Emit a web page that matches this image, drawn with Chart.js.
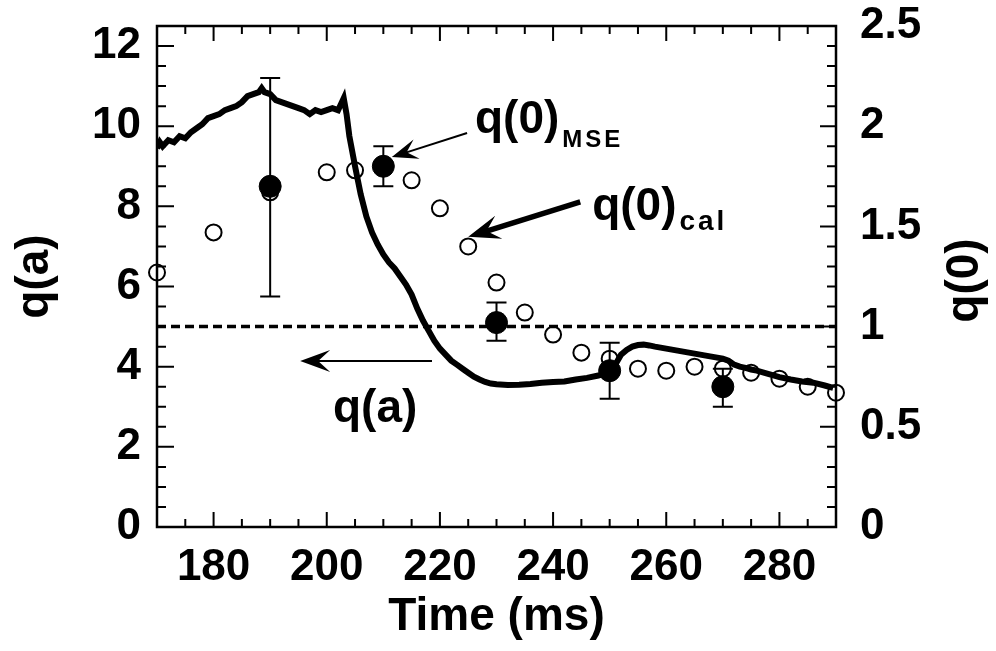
<!DOCTYPE html>
<html>
<head>
<meta charset="utf-8">
<script src="https://cdn.jsdelivr.net/npm/chart.js@4.4.0/dist/chart.umd.min.js"></script>
<style>
  html, body { margin: 0; padding: 0; background: #fff; }
  #wrap { width: 996px; height: 651px; }
</style>
</head>
<body>
<div id="wrap"><canvas id="c"></canvas></div>
<script>
"use strict";

// q(a) trace (left axis)
var qaTime = [170, 170.5, 171, 172, 173, 174, 175, 176, 177, 178, 179, 180, 181, 182, 183, 184, 185, 186, 187, 188, 188.5, 189, 190, 191, 192, 193, 194, 195, 196, 197, 198, 199, 200, 201, 202, 202.5, 203, 203.5, 204, 205, 206, 207, 208, 209, 210, 211, 212, 213, 214, 215, 216, 217, 218, 219, 220, 221, 222, 223, 224, 225, 226, 227, 228, 229, 230, 232, 234, 236, 238, 240, 242, 244, 246, 248, 249.5, 251, 252, 253, 254, 255, 256, 257, 258, 260, 262, 264, 266, 268, 270, 271, 272, 273, 274, 275, 276, 278, 280, 282, 284, 286, 288, 289.5];
var qaValue = [9.45, 9.6, 9.5, 9.65, 9.6, 9.75, 9.7, 9.85, 9.95, 10.05, 10.2, 10.25, 10.3, 10.4, 10.45, 10.5, 10.6, 10.75, 10.8, 10.85, 10.95, 10.85, 10.8, 10.65, 10.6, 10.55, 10.5, 10.45, 10.4, 10.3, 10.4, 10.35, 10.4, 10.45, 10.4, 10.55, 10.7, 10.3, 9.75, 9.0, 8.3, 7.75, 7.35, 7.05, 6.8, 6.6, 6.45, 6.25, 6.05, 5.8, 5.45, 5.15, 4.9, 4.65, 4.45, 4.3, 4.15, 4.05, 3.95, 3.85, 3.75, 3.68, 3.62, 3.58, 3.56, 3.54, 3.55, 3.57, 3.6, 3.62, 3.63, 3.68, 3.72, 3.78, 3.85, 4.05, 4.3, 4.42, 4.5, 4.54, 4.55, 4.53, 4.5, 4.45, 4.4, 4.35, 4.3, 4.25, 4.2, 4.15, 4.05, 4.0, 3.97, 3.93, 3.9, 3.82, 3.74, 3.68, 3.63, 3.6, 3.53, 3.47];

// reference level q(a) = 5
var refTime = [170, 290];
var refValue = [5, 5];

// q(0)_cal (right axis)
var calTime = [170, 180, 190, 200, 205, 215, 220, 225, 230, 235, 240, 245, 250, 255, 260, 265, 270, 275, 280, 285, 290];
var calValue = [1.27, 1.47, 1.67, 1.77, 1.78, 1.73, 1.59, 1.40, 1.22, 1.07, 0.96, 0.87, 0.84, 0.79, 0.78, 0.80, 0.79, 0.77, 0.74, 0.70, 0.67];

// q(0)_MSE with error bars (right axis)
var mseTime = [190, 210, 230, 250, 270];
var mseValue = [1.70, 1.80, 1.02, 0.78, 0.70];
var mseLow = [1.15, 1.70, 0.93, 0.64, 0.60];
var mseHigh = [2.24, 1.90, 1.12, 0.92, 0.79];

var xTicks = [180, 200, 220, 240, 260, 280];
var leftTicks = [0, 2, 4, 6, 8, 10, 12];
var rightTicks = [0, 0.5, 1, 1.5, 2, 2.5];

var FONT = "'Liberation Sans', Arial, sans-serif";
var tickFont = { family: FONT, size: 44, weight: 'bold' };
var titleFont = { family: FONT, size: 46, weight: 'bold' };

function pts(xs, ys) {
  return xs.map(function (x, i) { return { x: x, y: ys[i] }; });
}

function fixTicks(list) {
  return function (scale) {
    scale.ticks = list.map(function (v) { return { value: v }; });
  };
}

// fixed box sizes so the plot area lands where the reference has it
function fitBox(size) {
  return function (s) {
    if (s.isHorizontal()) {
      s.height = size;
      s.paddingLeft = 0; s.paddingRight = 0;
    } else {
      s.width = size;
      s.paddingTop = 0; s.paddingBottom = 0;
    }
  };
}

function arrow(ctx, x1, y1, x2, y2, width, headLen, headHalf) {
  var a = Math.atan2(y2 - y1, x2 - x1);
  var c = Math.cos(a), s = Math.sin(a);
  ctx.lineWidth = width;
  ctx.beginPath();
  ctx.moveTo(x1, y1);
  ctx.lineTo(x2 - c * headLen * 0.5, y2 - s * headLen * 0.5);
  ctx.stroke();
  ctx.beginPath();
  ctx.moveTo(x2, y2);
  ctx.lineTo(x2 - c * headLen - s * headHalf, y2 - s * headLen + c * headHalf);
  ctx.lineTo(x2 - c * headLen * 0.6, y2 - s * headLen * 0.6);
  ctx.lineTo(x2 - c * headLen + s * headHalf, y2 - s * headLen - c * headHalf);
  ctx.closePath();
  ctx.fill();
}

function label(ctx, x, y, main, sub, subSize, subShift, spacing) {
  ctx.font = 'bold 46px ' + FONT;
  ctx.textAlign = 'left';
  ctx.textBaseline = 'alphabetic';
  ctx.fillText(main, x, y);
  if (!sub) return;
  var w = ctx.measureText(main).width;
  ctx.font = 'bold ' + subSize + 'px ' + FONT;
  var cx = x + w + spacing;
  for (var i = 0; i < sub.length; i++) {
    ctx.fillText(sub[i], cx, y + subShift);
    cx += ctx.measureText(sub[i]).width + spacing;
  }
}

var decor = {
  id: 'decor',
  beforeDatasetsDraw: function (chart) {
    var ctx = chart.ctx, xs = chart.scales.x, yr = chart.scales.y2;
    ctx.save();
    ctx.strokeStyle = '#000';
    ctx.lineWidth = 2;
    mseTime.forEach(function (t, i) {
      var px = xs.getPixelForValue(t);
      var top = yr.getPixelForValue(mseHigh[i]);
      var bot = yr.getPixelForValue(mseLow[i]);
      ctx.beginPath();
      ctx.moveTo(px, top); ctx.lineTo(px, bot);
      ctx.moveTo(px - 10, top); ctx.lineTo(px + 10, top);
      ctx.moveTo(px - 10, bot); ctx.lineTo(px + 10, bot);
      ctx.stroke();
    });
    ctx.restore();
  },
  afterDraw: function (chart) {
    var ctx = chart.ctx, a = chart.chartArea;
    var xs = chart.scales.x, yl = chart.scales.y, yr = chart.scales.y2;
    ctx.save();
    ctx.strokeStyle = '#000';
    ctx.fillStyle = '#000';
    // frame
    ctx.lineWidth = 2.5;
    ctx.strokeRect(a.left, a.top, a.right - a.left, a.bottom - a.top);
    // inward ticks
    ctx.lineWidth = 2;
    ctx.beginPath();
    var t, len, p, v;
    for (t = 170; t <= 290; t += 5) {
      p = xs.getPixelForValue(t);
      len = (t - 180) % 20 === 0 ? 15 : 8;
      ctx.moveTo(p, a.bottom); ctx.lineTo(p, a.bottom - len);
      ctx.moveTo(p, a.top); ctx.lineTo(p, a.top + len);
    }
    for (v = 0; v <= 25; v++) {
      p = yl.getPixelForValue(v / 2);
      len = v % 4 === 0 ? 17 : 9;
      ctx.moveTo(a.left, p); ctx.lineTo(a.left + len, p);
    }
    for (v = 0; v <= 25; v++) {
      p = yr.getPixelForValue(v / 10);
      len = v % 5 === 0 ? 16 : 9;
      ctx.moveTo(a.right, p); ctx.lineTo(a.right - len, p);
    }
    ctx.stroke();

    function X(t) { return xs.getPixelForValue(t); }
    function Y(q) { return yl.getPixelForValue(q); }

    // arrows
    arrow(ctx, X(224.8), Y(9.83), X(211.5), Y(9.23), 2, 26, 10);
    arrow(ctx, X(244.8), Y(8.11), X(225.0), Y(7.24), 5.5, 32, 12);
    arrow(ctx, X(218.6), Y(4.14), X(195.3), Y(4.14), 2, 30, 11);

    // annotation text
    label(ctx, X(226.2), Y(9.83), 'q(0)', 'MSE', 24, 14, 3);
    label(ctx, X(246.9), Y(7.66), 'q(0)', 'cal', 28, 10, 3);
    label(ctx, X(201.1), Y(2.62), 'q(a)', null);

    // right axis title, reading bottom to top
    ctx.font = 'bold 46px ' + FONT;
    ctx.textAlign = 'center';
    ctx.textBaseline = 'middle';
    ctx.translate(965, (a.top + a.bottom) / 2 + 4);
    ctx.rotate(-Math.PI / 2);
    ctx.fillText('q(0)', 0, 0);
    ctx.restore();
  }
};

new Chart(document.getElementById('c'), {
  type: 'scatter',
  data: {
    datasets: [
      {
        label: 'q(0) MSE',
        data: pts(mseTime, mseValue),
        yAxisID: 'y2',
        showLine: false,
        pointRadius: 11,
        pointBackgroundColor: '#000',
        pointBorderColor: '#000',
        pointBorderWidth: 1,
        clip: false,
        order: 0
      },
      {
        label: 'q(a)',
        data: pts(qaTime, qaValue),
        yAxisID: 'y',
        showLine: true,
        borderColor: '#000',
        borderWidth: 6,
        pointRadius: 0,
        tension: 0,
        order: 1
      },
      {
        label: 'q(0) cal',
        data: pts(calTime, calValue),
        yAxisID: 'y2',
        showLine: false,
        pointRadius: 8,
        pointBackgroundColor: 'rgba(0,0,0,0)',
        pointBorderColor: '#000',
        pointBorderWidth: 2,
        clip: false,
        order: 2
      },
      {
        label: 'ref',
        data: pts(refTime, refValue),
        yAxisID: 'y',
        showLine: true,
        borderColor: '#000',
        borderWidth: 3.5,
        borderDash: [9, 5],
        pointRadius: 0,
        order: 3
      }
    ]
  },
  options: {
    responsive: true,
    maintainAspectRatio: false,
    animation: false,
    layout: { padding: { top: 26, left: 0, right: 0, bottom: 0 } },
    plugins: { legend: { display: false }, tooltip: { enabled: false } },
    scales: {
      x: {
        type: 'linear',
        min: 170,
        max: 290,
        afterBuildTicks: fixTicks(xTicks),
        afterFit: fitBox(124),
        grid: { display: false, drawTicks: false },
        border: { display: false },
        ticks: { color: '#000', font: tickFont, padding: 14, maxRotation: 0, autoSkip: false },
        title: { display: true, text: 'Time (ms)', color: '#000', font: titleFont, padding: { top: 0, bottom: 6 } }
      },
      y: {
        position: 'left',
        min: 0,
        max: 12.5,
        afterBuildTicks: fixTicks(leftTicks),
        afterFit: fitBox(157),
        grid: { display: false, drawTicks: false },
        border: { display: false },
        ticks: { color: '#000', font: tickFont, padding: 16 },
        title: { display: true, text: 'q(a)', color: '#000', font: titleFont, padding: { top: 8, bottom: 0 } }
      },
      y2: {
        position: 'right',
        min: 0,
        max: 2.5,
        afterBuildTicks: fixTicks(rightTicks),
        afterFit: fitBox(160),
        grid: { display: false, drawTicks: false },
        border: { display: false },
        ticks: {
          color: '#000', font: tickFont, padding: 24,
          callback: function (v) { return String(v); }
        }
      }
    }
  },
  plugins: [decor]
});
</script>
</body>
</html>
